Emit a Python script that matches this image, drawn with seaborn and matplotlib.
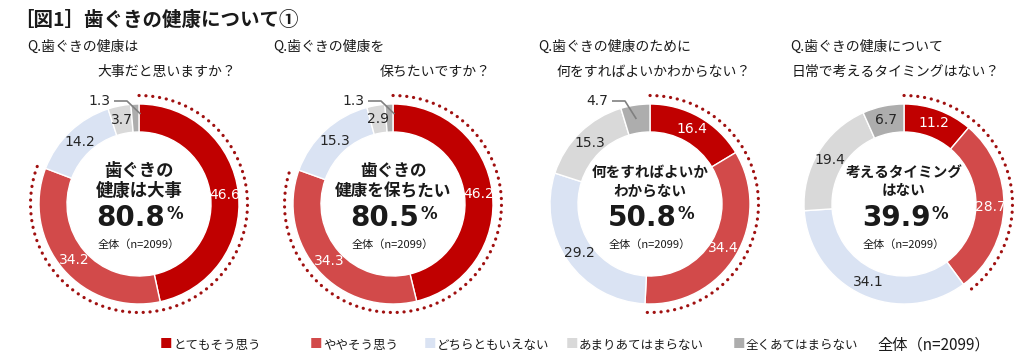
import numpy as np
import matplotlib.pyplot as plt
import seaborn as sns

# Answer categories (clockwise from 12 o'clock)
categories = ["とてもそう思う", "ややそう思う", "どちらともいえない", "あまりあてはまらない", "全くあてはまらない"]

# Question text shown above each donut
questions = [
    "Q.歯ぐきの健康は",
    "Q.歯ぐきの健康を",
    "Q.歯ぐきの健康のために",
    "Q.歯ぐきの健康について",
]
questions_2nd = [
    "大事だと思いますか？",
    "保ちたいですか？",
    "何をすればよいかわからない？",
    "日常で考えるタイミングはない？",
]

# Text in the middle of each donut
center_titles = [
    "歯ぐきの\n健康は大事",
    "歯ぐきの\n健康を保ちたい",
    "何をすればよいか\nわからない",
    "考えるタイミング\nはない",
]

# Percentages per question (%), n=2099
values_q1 = [46.6, 34.2, 14.2, 3.7, 1.3]
values_q2 = [46.2, 34.3, 15.3, 2.9, 1.3]
values_q3 = [16.4, 34.4, 29.2, 15.3, 4.7]
values_q4 = [11.2, 28.7, 34.1, 19.4, 6.7]
all_values = [values_q1, values_q2, values_q3, values_q4]

sample_label = "全体（n=2099）"

# colours
palette = sns.color_palette(["#C00000", "#D24A4A", "#DAE3F3", "#D9D9D9", "#ADADAD"])
label_colors = ["white", "white", "#262626", "#262626", "#262626"]
dot_color = "#A01010"
text_color = "#1a1a1a"

sns.set_theme(style="white")
plt.rcParams['font.family'] = ['Noto Sans CJK JP', 'DejaVu Sans']

W, H = 1022, 364
fig = plt.figure(figsize=(W / 100, H / 100), dpi=100)
fig.patch.set_facecolor("white")

# layout (pixels)
centers_x = [139, 393, 650, 904]
center_y = 204
half = 125  # half size of each axes box in px (1 data unit = 100 px)
title_sizes = [12.5, 12, 10.5, 10.5]
outside_slice = [4, 4, 4, None]  # slice whose label is pulled outside with a leader line
q_x = [27, 273, 538, 790]
q2_x = [97, 380, 557, 792]

fig.text(14 / W, 1 - 20 / H, "［図1］歯ぐきの健康について①", fontsize=14, fontweight="bold",
         va="center", ha="left", color=text_color)

for i, vals in enumerate(all_values):
    cx = centers_x[i]
    ax = fig.add_axes([(cx - half) / W, (H - center_y - half) / H, 2 * half / W, 2 * half / H])
    ax.set_xlim(-half / 100, half / 100)
    ax.set_ylim(-half / 100, half / 100)
    ax.set_aspect("equal")
    ax.axis("off")
    ax.patch.set_alpha(0)

    wedges, _ = ax.pie(vals, colors=palette, startangle=90, counterclock=False, radius=1.0,
                       wedgeprops=dict(width=0.28, edgecolor="white", linewidth=1))

    # value labels
    total = sum(vals)
    cum = 0
    for j, v in enumerate(vals):
        mid = (cum + v / 2) / total * 2 * np.pi
        cum += v
        x, y = 0.86 * np.sin(mid), 0.86 * np.cos(mid)
        if outside_slice[i] == j:
            lx = -0.40 if i < 2 else -0.53
            ax.plot([lx + 0.15, lx + 0.28, x + 0.05 if i < 2 else x - 0.01],
                    [1.03, 1.03, 0.90 if i < 2 else 0.85],
                    color="#808080", lw=1.2, solid_capstyle="butt")
            ax.text(lx, 1.03, f"{v:.1f}", ha="center", va="center", fontsize=10,
                    color=label_colors[j], family="DejaVu Sans")
        else:
            ax.text(x, y, f"{v:.1f}", ha="center", va="center", fontsize=10,
                    color=label_colors[j], family="DejaVu Sans")

    # dotted arc around the "agree" share
    agree = vals[0] + vals[1]
    theta = np.linspace(0, agree / total * 2 * np.pi, 200)
    ax.plot(1.085 * np.sin(theta), 1.085 * np.cos(theta), color=dot_color, lw=2.3,
            linestyle=(0, (0.05, 2.1)), dash_capstyle="round")

    # centre texts
    ax.text(0, 0.23, center_titles[i], ha="center", va="center", fontsize=title_sizes[i],
            fontweight="bold", color=text_color, linespacing=1.2)
    num = ax.text(-0.08, -0.14, f"{agree:.1f}", ha="center", va="center", fontsize=20,
                  fontweight="bold", color=text_color, family="DejaVu Sans")
    ax.annotate("%", xy=(1.0, 0.95), xycoords=num, xytext=(1, 0), textcoords="offset points",
                ha="left", va="top", fontsize=12, fontweight="bold", color=text_color,
                family="DejaVu Sans")
    ax.text(0, -0.41, sample_label, ha="center", va="center", fontsize=8, color=text_color)

    # question texts
    fig.text(q_x[i] / W, 1 - 47 / H, questions[i], fontsize=10, ha="left", va="center", color=text_color)
    fig.text(q2_x[i] / W, 1 - 72 / H, questions_2nd[i], fontsize=10, ha="left", va="center", color=text_color)

# legend at bottom
leg_x = [160, 310, 424, 566, 733]
for k, cat in enumerate(categories):
    fig.text(leg_x[k] / W, 1 - 345 / H, "■", color=palette[k], fontsize=9, ha="left", va="center")
    fig.text((leg_x[k] + 13) / W, 1 - 345 / H, cat, color=text_color, fontsize=9, ha="left", va="center")
fig.text(877 / W, 1 - 345 / H, sample_label, color=text_color, fontsize=11, ha="left", va="center")

fig.savefig("out.png", dpi=100, facecolor="white")
